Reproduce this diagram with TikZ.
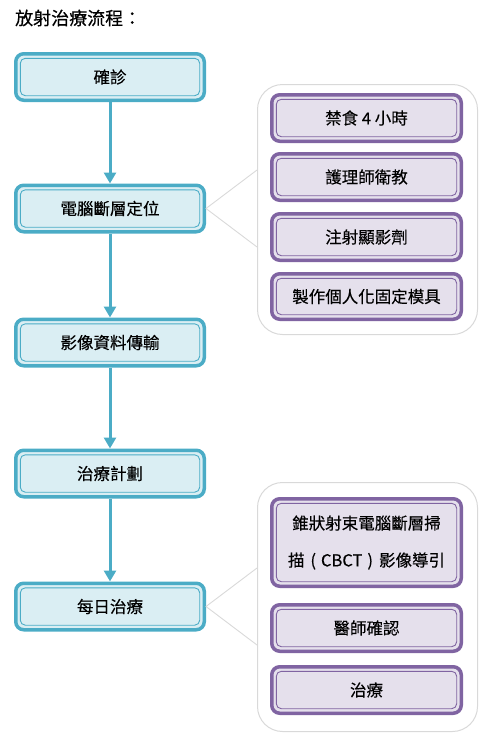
\documentclass[tikz,border=0pt]{standalone}
\usepackage{fontspec}
\setmainfont{Noto Sans CJK TC}
\newfontfamily\boxfont[FakeBold=0.25]{Noto Sans CJK TC}
\newfontfamily\titlefont[FakeBold=0.5]{Noto Sans CJK TC}
\usetikzlibrary{arrows.meta}
\definecolor{tealc}{HTML}{4BACC6}
\definecolor{tealf}{HTML}{DAEEF3}
\definecolor{purc}{HTML}{8064A2}
\definecolor{purf}{HTML}{E5E0EC}
\definecolor{panelc}{HTML}{D9D9D9}
\tikzset{
  tbox/.style={draw=tealc, line width=3.5pt, fill=tealf, rounded corners=8pt,
    minimum width=188.5pt, minimum height=46.5pt, inner sep=0pt,
    font=\boxfont\fontsize{16.5pt}{20pt}\selectfont},
  pbox/.style={draw=purc, line width=3.5pt, fill=purf, rounded corners=8pt,
    minimum width=189.5pt, minimum height=46.5pt, inner sep=0pt,
    font=\boxfont\fontsize{16.5pt}{20pt}\selectfont},
  panel/.style={draw=panelc, line width=1pt, fill=white, rounded corners=25pt,
    minimum width=220pt, inner sep=0pt},
  flow/.style={draw=tealc, line width=3pt, -{Triangle[width=12pt,length=11pt]}},
  conn/.style={draw=panelc, line width=0.9pt},
  tin/.style={draw=tealc, line width=0.9pt, rounded corners=5pt},
  pin/.style={draw=purc, line width=0.9pt, rounded corners=5pt},
}
\begin{document}
\begin{tikzpicture}[x=1pt,y=-1pt]
\useasboundingbox (0,0) rectangle (489,739);

\node[anchor=west, inner sep=0pt, font=\titlefont\fontsize{18pt}{20pt}\selectfont] (title) at (15,18) {放射治療流程：};

% panels
\node[panel, minimum height=250pt] (P1) at (367.5,209.5) {};
\node[panel, minimum height=249pt] (P2) at (367.5,607) {};

% left flow boxes
\node[tbox] (L1) at (110,77) {確診};
\node[tbox] (L2) at (110,208.5) {電腦斷層定位};
\node[tbox] (L3) at (110,342.5) {影像資料傳輸};
\node[tbox] (L4) at (110,473.5) {治療計劃};
\node[tbox] (L5) at (110,606.5) {每日治療};

% right boxes
\node[pbox] (A) at (366.5,118) {禁食 4 小時};
\node[pbox] (B) at (366.5,177) {護理師衛教};
\node[pbox] (C) at (366.5,237) {注射顯影劑};
\node[pbox, minimum height=45.5pt] (D) at (366.5,296.5) {製作個人化固定模具};
\node[pbox, minimum height=87.5pt, align=center, font=\boxfont\fontsize{16.5pt}{37pt}\selectfont] (E) at (366.5,542.5) {錐狀射束電腦斷層掃\\描\hspace{6pt}(\hspace{5pt}CBCT\hspace{5pt})\hspace{6pt}影像導引};
\node[pbox] (F) at (366.5,628) {醫師確認};
\node[pbox] (G) at (366.5,690) {治療};

% inner thin lines
\foreach \n in {L1,L2,L3,L4,L5}
  \draw[tin] ([shift={(6.3pt,6.3pt)}]\n.south west) rectangle ([shift={(-6.3pt,-6.3pt)}]\n.north east);
\foreach \n in {A,B,C,D,E,F,G}
  \draw[pin] ([shift={(6.3pt,6.3pt)}]\n.south west) rectangle ([shift={(-6.3pt,-6.3pt)}]\n.north east);

% flow arrows
\draw[flow] (L1) -- (L2);
\draw[flow] (L2) -- (L3);
\draw[flow] (L3) -- (L4);
\draw[flow] (L4) -- (L5);

% callout connectors
\draw[conn] (P1.west |- 0,170) -- (L2.east) -- (P1.west |- 0,247);
\draw[conn] (P2.west |- 0,568) -- (L5.east) -- (P2.west |- 0,645);
\end{tikzpicture}
\end{document}
